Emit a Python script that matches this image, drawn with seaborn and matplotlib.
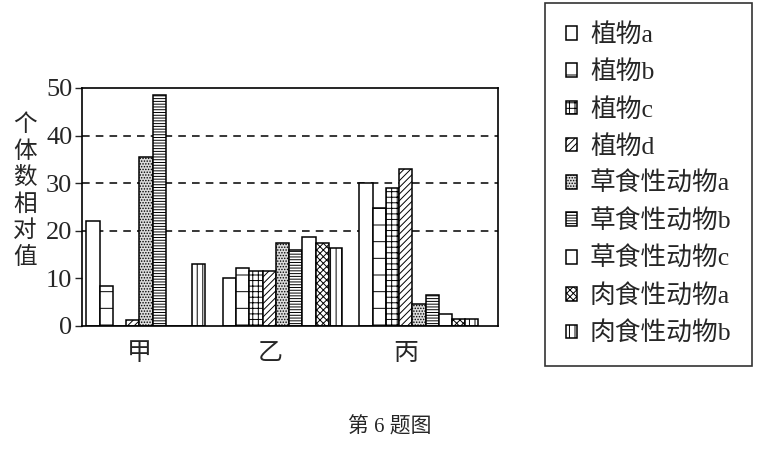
import pandas as pd
import matplotlib
matplotlib.use("Agg")
import matplotlib.pyplot as plt
import seaborn as sns

# data
groups = ["甲", "乙", "丙"]
species = ["植物a", "植物b", "植物c", "植物d",
           "草食性动物a", "草食性动物b", "草食性动物c",
           "肉食性动物a", "肉食性动物b"]
vals_jia = [22, 8.5, 0, 1.2, 35.5, 48.5, 0, 0, 13]
vals_yi = [10, 12.2, 11.5, 11.5, 17.4, 16, 18.6, 17.4, 16.4]
vals_bing = [30, 24.8, 29, 33, 4.7, 6.5, 2.5, 1.4, 1.4]
yticks = [0, 10, 20, 30, 40, 50]

hatches = ["", "-", "+++", "/////", "......", "------", "", "xxxxx", "|||"]
faces = ["white", "white", "white", "white", "#dcdcdc", "white", "white", "white", "white"]

rows = []
for g, vals in zip(groups, [vals_jia, vals_yi, vals_bing]):
    for s, v in zip(species, vals):
        rows.append({"group": g, "species": s, "value": v})
df = pd.DataFrame(rows)

sns.set_style("white")
plt.rcParams["font.family"] = ["Liberation Serif", "Noto Sans CJK SC"]
plt.rcParams["hatch.linewidth"] = 0.7

fig = plt.figure(figsize=(7.77, 4.51), dpi=100)
ax = fig.add_axes([0.1055, 0.2772, 0.5354, 0.5277])

sns.barplot(data=df, x="group", y="value", hue="species", hue_order=species,
            order=groups, width=0.872, ax=ax, edgecolor="black",
            linewidth=1.1, legend=False)

for i, cont in enumerate(ax.containers):
    for p in cont.patches:
        p.set_facecolor(faces[i])
        p.set_hatch(hatches[i])
        p.set_edgecolor("black")

ax.set_ylim(0, 50)
ax.set_xlim(-0.469, 2.579)
ax.set_yticks(yticks)
ax.set_yticklabels([str(t) for t in yticks], fontsize=19)
ax.set_xticks([-0.05, 0.91, 1.9])
ax.set_xticklabels(groups, fontsize=18, family=["Noto Sans CJK SC"])
ax.tick_params(axis="x", length=0, pad=10)
ax.tick_params(axis="y", direction="out", length=5, width=1, left=True, pad=2)
ax.set_xlabel("")
ax.set_ylabel("")
for y in [20, 30, 40]:
    ax.axhline(y, color="black", linestyle=(0, (5, 4)), linewidth=1.1, zorder=0)
for sp in ax.spines.values():
    sp.set_color("black")
    sp.set_linewidth(1.2)

fig.text(25 / 777, 1 - 191 / 451, "\n".join("个体数相对值"), fontsize=17,
         ha="center", va="center", linespacing=1.2, family=["Noto Sans CJK SC"])

leg = fig.legend(ax.containers, species, loc="upper left",
                 bbox_to_anchor=(545 / 777, 1 - 3 / 451), borderaxespad=0,
                 frameon=True, fancybox=False, edgecolor="black",
                 handlelength=0.45, handleheight=0.45, handletextpad=0.5,
                 labelspacing=0.52, borderpad=0.8,
                 prop={"family": ["Liberation Serif", "Noto Sans CJK SC"], "size": 18.5})
leg.get_frame().set_linewidth(1.2)

fig.text(390 / 777, 1 - 427 / 451, "第 6 题图", fontsize=15, ha="center", va="center")

fig.savefig("out.png", dpi=100)
